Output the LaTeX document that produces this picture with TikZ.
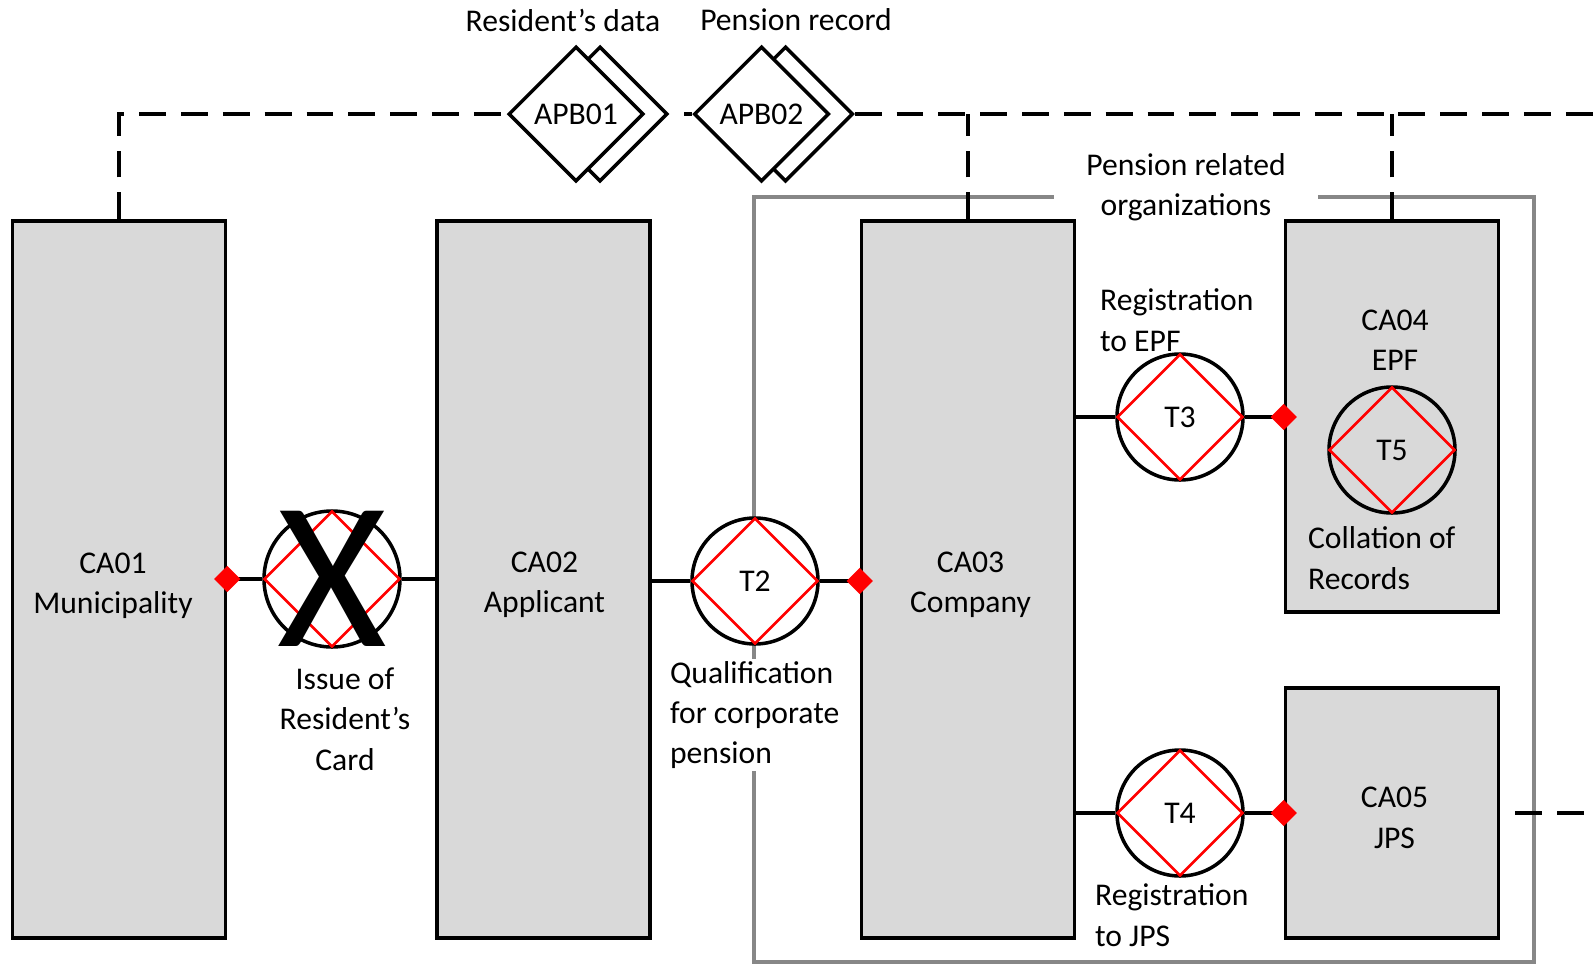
\documentclass[tikz,border=0pt]{standalone}
\usepackage{fontspec}
\setmainfont{Carlito}
\usepackage{xcolor}
\usetikzlibrary{positioning,calc,shapes.geometric}
\definecolor{boxgray}{RGB}{217,217,217}
\definecolor{framegray}{RGB}{135,135,135}

\begin{document}
\begin{tikzpicture}[font=\fontsize{18}{23}\selectfont,
		actor/.style={minimum width=4.26cm,draw=black,line width=2pt,fill=boxgray,inner sep=0pt},
		trans/.style={circle,draw=black,line width=2pt,fill=white,minimum size=2.52cm,inner sep=0pt},
		tdiam/.style={diamond,draw=red,line width=1.5pt,minimum size=2.52cm,inner sep=0pt},
		apb/.style={diamond,draw=black,line width=2pt,fill=white,minimum width=2.7cm,minimum height=2.7cm,inner sep=0pt},
		apbline/.style={line width=2pt,dash pattern=on 15.3pt off 8.5pt},
		link/.style={line width=2pt},
		exec/.style={diamond,fill=red,minimum size=0.53cm,inner sep=0pt},
		lbl/.style={inner sep=1pt,align=left}]
		\useasboundingbox (0,0) rectangle (31.86,-19.28);
		
		% pension related organizations
		\node[minimum width=15.6cm,minimum height=15.3cm,draw=framegray,line width=2pt] (orgs) at (22.88,-11.59) {};
		\node[fill=white,minimum width=5.28cm,inner sep=1pt,align=center] (orgslbl) at (23.72,-3.74) {Pension related\\organizations};
		
		% actors
		\node[actor,minimum height=14.34cm] (ca01) at (2.38,-11.59) {};
		\node[actor,minimum height=14.34cm] (ca02) at (10.87,-11.59) {};
		\node[actor,minimum height=14.34cm] (ca03) at (19.36,-11.59) {};
		\node[actor,minimum height=7.82cm] (ca04) at (27.84,-8.33) {};
		\node[actor,minimum height=5cm] (ca05) at (27.84,-16.26) {};
		\node[align=center,shift={(-0.12,-0.12)}] (ca01lbl) at (ca01.center) {CA01\\Municipality};
		\node[align=center,shift={(0.02,-0.1)}] (ca02lbl) at (ca02.center) {CA02\\Applicant};
		\node[align=center,shift={(0.05,-0.1)}] (ca03lbl) at (ca03.center) {CA03\\Company};
		\node[align=center] (ca04lbl) at (27.9,-6.8) {CA04\\EPF};
		\node[align=center,shift={(0.05,-0.1)}] (ca05lbl) at (ca05.center) {CA05\\JPS};
		
		% information banks
		\node[apb] (apb01b) at (12,-2.28) {};
		\node[apb,shift={(-0.48,0)}] (apb01) at (apb01b) {APB01};
		\node[apb] (apb02b) at (15.71,-2.28) {};
		\node[apb,shift={(-0.48,0)}] (apb02) at (apb02b) {APB02};
		\node (apb01lbl) at (11.26,-0.4) {Resident's data};
		\node (apb02lbl) at (15.92,-0.4) {Pension record};
		
		\coordinate (rimtop) at (31.86,-2.28);
		\coordinate (rimjps) at (31.86,-16.26);
		\draw[apbline] (ca01.north) |- (apb01.west);
		\draw[apbline,dash phase=15.3pt] (apb01b.east)--(apb02.west);
		\draw[apbline] (apb02b.east)--(rimtop);
		\draw[apbline] (ca03.north)--(ca03.north |- apb02b.east);
		\draw[apbline] (ca04.north)--(ca04.north |- apb02b.east);
		\draw[apbline,dash phase=15.3pt] (ca05.east)--(rimjps);
		
		% transactions
		\node[trans,minimum size=2.72cm] (t1) at (6.64,-11.58) {};
		\node[tdiam,minimum size=2.72cm] (t1d) at (t1) {};
		\node[inner sep=0pt,font=\fontsize{120}{120}\selectfont] (t1x) at (t1) {X};
		\node[trans] (t2) at (15.1,-11.62) {};
		\node[tdiam] (t2d) at (t2) {T2};
		\node[trans] (t3) at (23.6,-8.34) {};
		\node[tdiam] (t3d) at (t3) {T3};
		\node[trans] (t4) at (23.6,-16.26) {};
		\node[tdiam] (t4d) at (t4) {T4};
		\node[trans,fill=boxgray] (t5) at (27.84,-9.0) {};
		\node[tdiam] (t5d) at (t5) {T5};
		
		\node[lbl,inner sep=0pt,align=center] (t1lbl) at (6.9,-14.38) {Issue of\\Resident's\\Card};
		\node[lbl,fill=white,anchor=west] (t2lbl) at (13.36,-14.3) {Qualification\\for corporate\\pension};
		\node[lbl,anchor=west] (t3lbl) at (21.96,-6.4) {Registration\\to EPF};
		\node[lbl,anchor=west] (t4lbl) at (21.86,-18.3) {Registration\\to JPS};
		\node[lbl,anchor=west] (t5lbl) at (26.12,-11.16) {Collation of\\Records};
		
		\draw[link] (t1 -| ca01.east)--(t1);
		\draw[link] (t1)--(t1 -| ca02.west);
		\draw[link] (t2 -| ca02.east)--(t2);
		\draw[link] (t2)--(t2 -| ca03.west);
		\draw[link] (t3 -| ca03.east)--(t3);
		\draw[link] (t3)--(t3 -| ca04.west);
		\draw[link] (t4 -| ca03.east)--(t4);
		\draw[link] (t4)--(t4 -| ca05.west);
		
		\node[exec] (e1) at (t1 -| ca01.east) {};
		\node[exec] (e2) at (t2 -| ca03.west) {};
		\node[exec] (e3) at (t3 -| ca04.west) {};
		\node[exec] (e4) at (t4 -| ca05.west) {};
	\end{tikzpicture}
\end{document}
